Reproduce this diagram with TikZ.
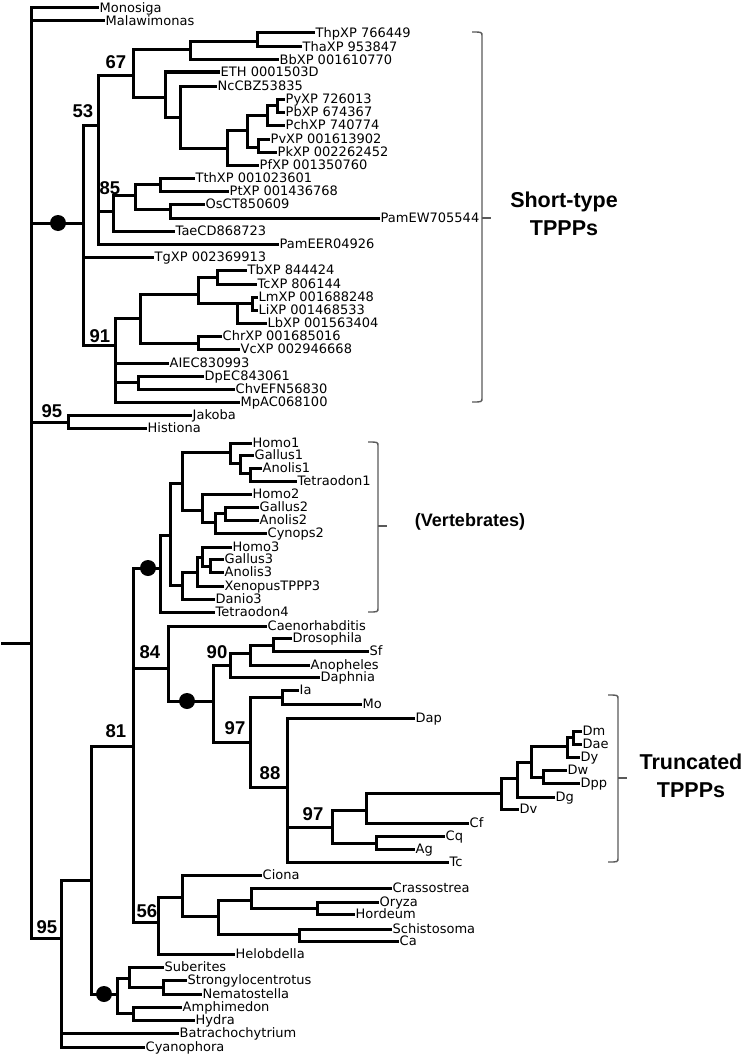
\documentclass[tikz,border=0pt]{standalone}
\usepackage{fontspec}
\setmainfont{DejaVu Sans}
\newfontfamily\bsfont{Liberation Sans}
\newcommand{\leaffont}{\fontsize{13pt}{15pt}\selectfont}
\usepackage{tikz}

\begin{document}
\begin{tikzpicture}[x=1pt, y=-1pt,
          branch/.style={line width=3pt, line cap=rect},
          leaf/.style={anchor=west, inner sep=2.5pt, font=\leaffont,
                       text height=9pt, text depth=0pt},
          boot/.style={inner sep=0pt, font=\bsfont\bfseries\fontsize{18.5}{20}\selectfont},
          bsdot/.style={circle, fill=black, inner sep=0pt, minimum size=16pt},
          brace/.style={line width=1.4pt, gray!70!black},
          group/.style={align=center, font=\bsfont\bfseries\fontsize{21.5}{28}\selectfont}]
          \useasboundingbox (0,0) rectangle (749,1057);
          % Inner nodes of the tree
          \foreach \n/\x/\y in {
            r/31/643, sA/83/223, n53/98/125, n67/133/75, a1/190/50, a3/257/42,
            a2/165/97, a4/180/117, a5/227/148, a6/247/130, a7/267/115,
            a9/277/105, a8/258/147, n85/113/211, a10/135/195, a11/160/184,
            a12/170/209, n91/115/345, a13/140/318, a15/198/294, a17/217/277,
            a18/237/303, a19/252/303, a16/198/343, a14/138/382, jh/68/422,
            b95/61/938, b81/91/880, n81/133/746, vt/160/568, v1/170/535,
            v2/182/483, v4/230/452, v6/240/463, v7/250/473, v5/202/510,
            v8/215/522, v9/225/513, v3/182/585, v10/197/572, v11/202/557,
            v12/210/566, n84/168/668, dn/213/701, n90/230/665, c1/250/653,
            c2/273/645, n97a/250/742, c3/282/697, n88/287/787, n97b/332/827,
            c4/366/810, c5/376/843, d1/501/793, d2/517/778, d3/531/762,
            d4/567/746, d6/573/737, d5/543/777, n56/158/922, e1/182/897,
            e2/218/916, e3/251/900, e5/317/908, e4/299/934, sp/117/994,
            f1/129/978, f3/163/987, f2/133/1013}{
            \coordinate (\n) at (\x,\y);
          }
          \coordinate (stub) at (2,643);
          \draw[branch] (stub) -- (r);
          \foreach \a/\b in {
            r/sA, r/jh, r/b95, sA/n53, sA/n91, n53/n67, n53/n85, n67/a1,
            n67/a2, a1/a3, a2/a4, a4/a5, a5/a6, a6/a7, a6/a8, a7/a9,
            n85/a10, a10/a11, a10/a12, n91/a13, n91/a14, a13/a15, a13/a16,
            a15/a17, a15/a18, a18/a19, b95/b81, b81/n81, b81/sp, n81/vt,
            n81/n84, n81/n56, vt/v1, v1/v2, v1/v3, v2/v4, v2/v5, v4/v6,
            v6/v7, v5/v8, v8/v9, v3/v10, v10/v11, v11/v12, n84/dn, dn/n90,
            dn/n97a, n90/c1, c1/c2, n97a/c3, n97a/n88, n88/n97b, n97b/c4,
            n97b/c5, c4/d1, d1/d2, d2/d3, d3/d4, d3/d5, d4/d6, n56/e1,
            e1/e2, e2/e3, e2/e4, e3/e5, sp/f1, sp/f2, f1/f3}
            \draw[branch] (\a) |- (\b);
          % Leaves
          \foreach \p/\n/\x/\y/\lbl in {
            r/Monosiga/97/8/Monosiga, r/Malawimonas/103/21/Malawimonas,
            a3/ThpXP/313/33/ThpXP 766449, a3/ThaXP/300/47/ThaXP 953847,
            a1/BbXP/277/60/BbXP 001610770, a2/ETH/218/72/ETH 0001503D,
            a4/NcCBZ/215/86/NcCBZ53835, a9/PyXP/283/99/PyXP 726013,
            a9/PbXP/283/112/PbXP 674367, a7/PchXP/283/125/PchXP 740774,
            a8/PvXP/268/139/PvXP 001613902, a8/PkXP/275/152/PkXP 002262452,
            a5/PfXP/257/165/PfXP 001350760, a11/TthXP/193/178/TthXP 001023601,
            a11/PtXP/227/191/PtXP 001436768, a12/OsCT/203/204/OsCT850609,
            a12/PamEW/378/218/PamEW705544, n85/TaeCD/173/231/TaeCD868723,
            n53/PamEER/277/244/PamEER04926, sA/TgXP/152/257/TgXP 002369913,
            a17/TbXP/245/270/TbXP 844424, a17/TcXP/255/284/TcXP 806144,
            a19/LmXP/256/297/LmXP 001688248, a19/LiXP/256/310/LiXP 001468533,
            a18/LbXP/265/323/LbXP 001563404, a16/ChrXP/220/336/ChrXP 001685016,
            a16/VcXP/238/349/VcXP 002946668, n91/AIEC/167/363/AIEC830993,
            a14/DpEC/202/376/DpEC843061, a14/ChvEFN/233/389/ChvEFN56830,
            n91/MpAC/238/402/MpAC068100, jh/Jakoba/190/415/Jakoba,
            jh/Histiona/145/428/Histiona, v4/Homo1/250/443/Homo1,
            v6/Gallus1/252/455/Gallus1, v7/Anolis1/260/468/Anolis1,
            v7/Tetraodon1/295/481/Tetraodon1, v5/Homo2/250/494/Homo2,
            v9/Gallus2/257/507/Gallus2, v9/Anolis2/257/520/Anolis2,
            v8/Cynops2/265/533/Cynops2, v11/Homo3/230/547/Homo3,
            v12/Gallus3/222/559/Gallus3, v12/Anolis3/222/572/Anolis3,
            v10/Xenopus/222/586/XenopusTPPP3, v3/Danio3/213/599/Danio3,
            vt/Tetraodon4/213/612/Tetraodon4, n84/Caeno/265/626/Caenorhabditis,
            c2/Drosophila/290/638/Drosophila, c2/Sf/367/651/Sf,
            c1/Anopheles/308/665/Anopheles, n90/Daphnia/318/677/Daphnia,
            c3/Ia/297/690/Ia, c3/Mo/360/704/Mo, n88/Dap/413/718/Dap,
            d6/Dm/580/731/Dm, d6/Dae/580/744/Dae, d4/Dy/578/757/Dy,
            d5/Dw/565/770/Dw, d5/Dpp/578/783/Dpp, d2/Dg/553/797/Dg,
            d1/Dv/517/809/Dv, c4/Cf/467/823/Cf, c5/Cq/443/836/Cq,
            c5/Ag/413/849/Ag, n88/Tc/447/862/Tc, e1/Ciona/260/875/Ciona,
            e3/Crassostrea/390/888/Crassostrea, e5/Oryza/377/902/Oryza,
            e5/Hordeum/353/914/Hordeum, e4/Schisto/390/929/Schistosoma,
            e4/Ca/397/941/Ca, n56/Helobdella/233/954/Helobdella,
            f1/Suberites/162/967/Suberites,
            f3/Strongylo/185/980/Strongylocentrotus,
            f3/Nemato/200/994/Nematostella, f2/Amphimedon/180/1007/Amphimedon,
            f2/Hydra/193/1020/Hydra, b95/Batracho/177/1033/Batrachochytrium,
            b95/Cyanophora/143/1047/Cyanophora}{
            \node[leaf] (\n) at (\x,\y) {\lbl};
            \draw[branch] (\p) |- (\n.west);
          }
          % Dots and bootstrap values
          \foreach \n/\x/\y in {dotA/58/223, dotB/148/568, dotC/187/701, dotD/104/994}
            \node[bsdot] (\n) at (\x,\y) {};
          \foreach \n/\x/\y/\v in {
            bs53/83/111/53, bs67/116/62/67, bs85/110/188/85, bs91/100/336/91,
            bs95a/52/411/95, bs81/116/731/81, bs84/150/652/84, bs90/217/652/90,
            bs97a/235/728/97, bs88/270/773/88, bs97b/313/814/97,
            bs56/147/911/56, bs95b/47/927/95}
            \node[boot] (\n) at (\x,\y) {\v};
          % Brackets
          \foreach \bx/\bt/\bb/\bm in {482/32/402/218, 378/442/612/526, 618/695/862/778}{
            \draw[brace] (\bx-10,\bt) .. controls (\bx,\bt) .. (\bx,\bt+4)
              -- (\bx,\bb-4) .. controls (\bx,\bb) .. (\bx-10,\bb);
            \draw[brace] (\bx,\bm) -- (\bx+9,\bm);
          }
          \node[group] (gShort) at (564,214) {Short-type\\TPPPs};
          \node[group, font=\bsfont\bfseries\fontsize{18}{22}\selectfont] (gVert) at (470,522) {(Vertebrates)};
          \node[group] (gTrunc) at (691,776) {Truncated\\TPPPs};
        \end{tikzpicture}
\end{document}
